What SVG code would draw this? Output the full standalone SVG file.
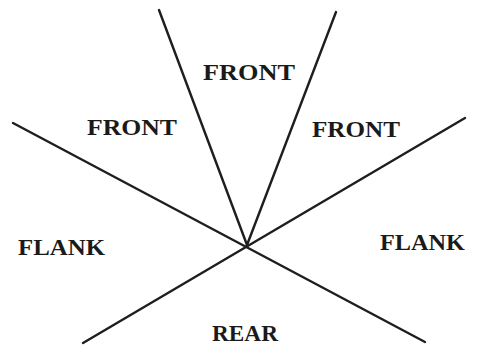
<svg xmlns="http://www.w3.org/2000/svg" width="477" height="346" viewBox="0 0 477 346">
<style>
.l{stroke:#1e1e1e;stroke-width:2.4;stroke-linecap:round;fill:none}
.t{font-family:"Liberation Serif",serif;font-weight:bold;font-size:23px;fill:#1a1a1a}
</style>
<rect width="477" height="346" fill="#fff"/>
<g id="connectors">
<line class="l" x1="159" y1="10" x2="247" y2="245"/>
<line class="l" x1="336" y1="12" x2="247" y2="245"/>
<line class="l" x1="13" y1="123" x2="425" y2="342"/>
<line class="l" x1="465" y1="118" x2="83" y2="343"/>
</g>
<g id="front-top"><text class="t" x="203" y="80" textLength="92" lengthAdjust="spacingAndGlyphs">FRONT</text></g>
<g id="front-left"><text class="t" x="87" y="135" textLength="90" lengthAdjust="spacingAndGlyphs">FRONT</text></g>
<g id="front-right"><text class="t" x="312" y="137" textLength="88" lengthAdjust="spacingAndGlyphs">FRONT</text></g>
<g id="flank-left"><text class="t" x="18" y="255" textLength="87" lengthAdjust="spacingAndGlyphs">FLANK</text></g>
<g id="flank-right"><text class="t" x="380" y="250" textLength="85" lengthAdjust="spacingAndGlyphs">FLANK</text></g>
<g id="rear"><text class="t" x="212" y="341" textLength="66" lengthAdjust="spacingAndGlyphs">REAR</text></g>
</svg>
